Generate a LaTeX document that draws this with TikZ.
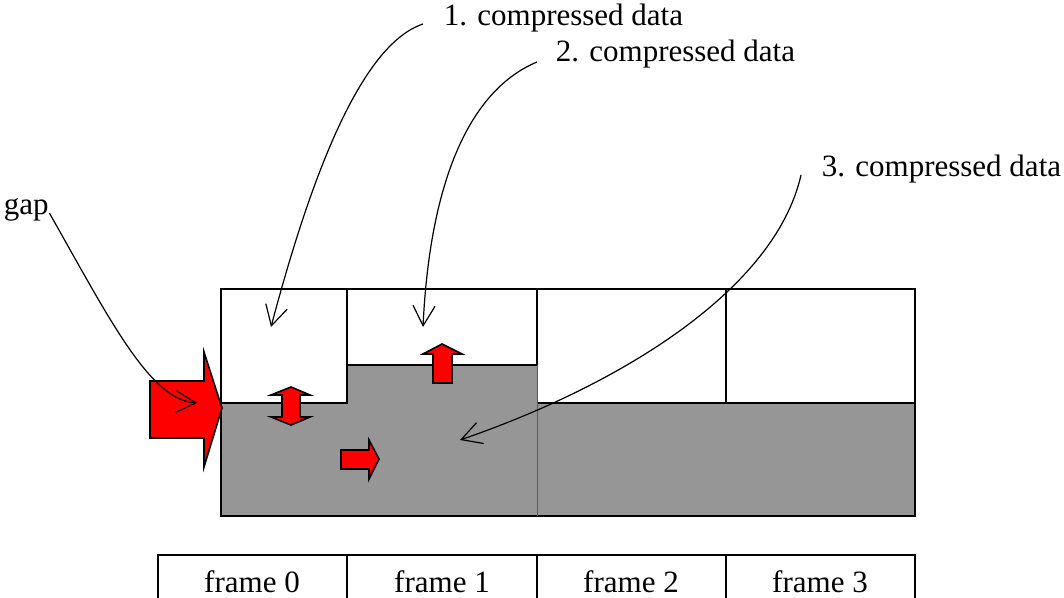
\documentclass[tikz,border=0pt]{standalone}
\usepackage{fontspec}
\setmainfont{Liberation Serif}
\usepackage{tikz}
\usetikzlibrary{arrows.meta}
\definecolor{framegray}{rgb}{0.588,0.588,0.588}
\definecolor{seamgray}{rgb}{0.35,0.35,0.35}
\tikzset{labelnode/.style={inner sep=0pt,font=\fontsize{15.5}{18}\selectfont},
	blockarrow/.style={fill=red,draw=black,line width=0.8pt,line join=miter},
	pointer/.style={line width=0.6pt,-{Straight Barb[length=10pt,width=11pt]}}}

\begin{document}
\begin{tikzpicture}[x=0.5pt,y=-0.5pt,line width=0.8pt]
		\useasboundingbox (0,0) rectangle (1064,598);
		%
		\fill[framegray] (221,403) -- (347,403) -- (347,365) -- (537,365) -- (537,403) -- (915,403) -- (915,516) -- (221,516) -- cycle;
		\draw (221,289) rectangle (915,516);
		\draw (221,403) -- (347,403) -- (347,289);
		\draw (347,365) -- (537,365) -- (537,289);
		\draw (537,403) -- (915,403);
		\draw (726,289) -- (726,403);
		\draw[seamgray,line width=0.5pt] (537,365) -- (537,516);
		%
		\draw (158,598) -- (158,555) -- (915,555) -- (915,598);
		\draw (347,555) -- (347,598);
		\draw (537,555) -- (537,598);
		\draw (726,555) -- (726,598);
		\node[labelnode,anchor=base] (fr0) at (252,592) {frame 0};
		\node[labelnode,anchor=base] (fr1) at (442,592) {frame 1};
		\node[labelnode,anchor=base] (fr2) at (631,592) {frame 2};
		\node[labelnode,anchor=base] (fr3) at (820,592) {frame 3};
		%
		\draw[blockarrow] (150,381) -- (204,381) -- (204,352) -- (222,408) -- (204,467) -- (204,438) -- (150,438) -- cycle;
		\draw[blockarrow] (291,387) -- (310,395) -- (300,395) -- (300,417) -- (310,417) -- (291,425) -- (271,417) -- (282,417) -- (282,395) -- (271,395) -- cycle;
		\draw[blockarrow] (442,344) -- (462,354) -- (452,354) -- (452,383) -- (433,383) -- (433,354) -- (423,354) -- cycle;
		\draw[blockarrow] (341,450) -- (369,450) -- (369,440) -- (379,459) -- (369,479) -- (369,469) -- (341,469) -- cycle;
		%
		\node[labelnode,anchor=base west] (cd1) at (443,26) {1. compressed data};
		\node[labelnode,anchor=base west] (cd2) at (555,62) {2. compressed data};
		\node[labelnode,anchor=base west] (cd3) at (821,177) {3. compressed data};
		\node[labelnode,anchor=base west] (gap) at (3,215) {gap};
		%
		\coordinate (t1) at (271,327);
		\coordinate (t2) at (423,327);
		\coordinate (t3) at (460,440);
		\coordinate (tg) at (197,403);
		\draw[pointer] ([xshift=-10pt,yshift=1pt]cd1.base west) .. controls (360,45) and (310,180) .. (t1);
		\draw[pointer] ([xshift=-9pt]cd2.base west) .. controls (470,90) and (430,180) .. (t2);
		\draw[pointer] ([xshift=-10pt,yshift=1pt]cd3.base west) .. controls (775,290) and (620,385) .. (t3);
		\draw[pointer] ([yshift=1pt]gap.base east) .. controls (110,320) and (150,400) .. (tg);
	\end{tikzpicture}
\end{document}
